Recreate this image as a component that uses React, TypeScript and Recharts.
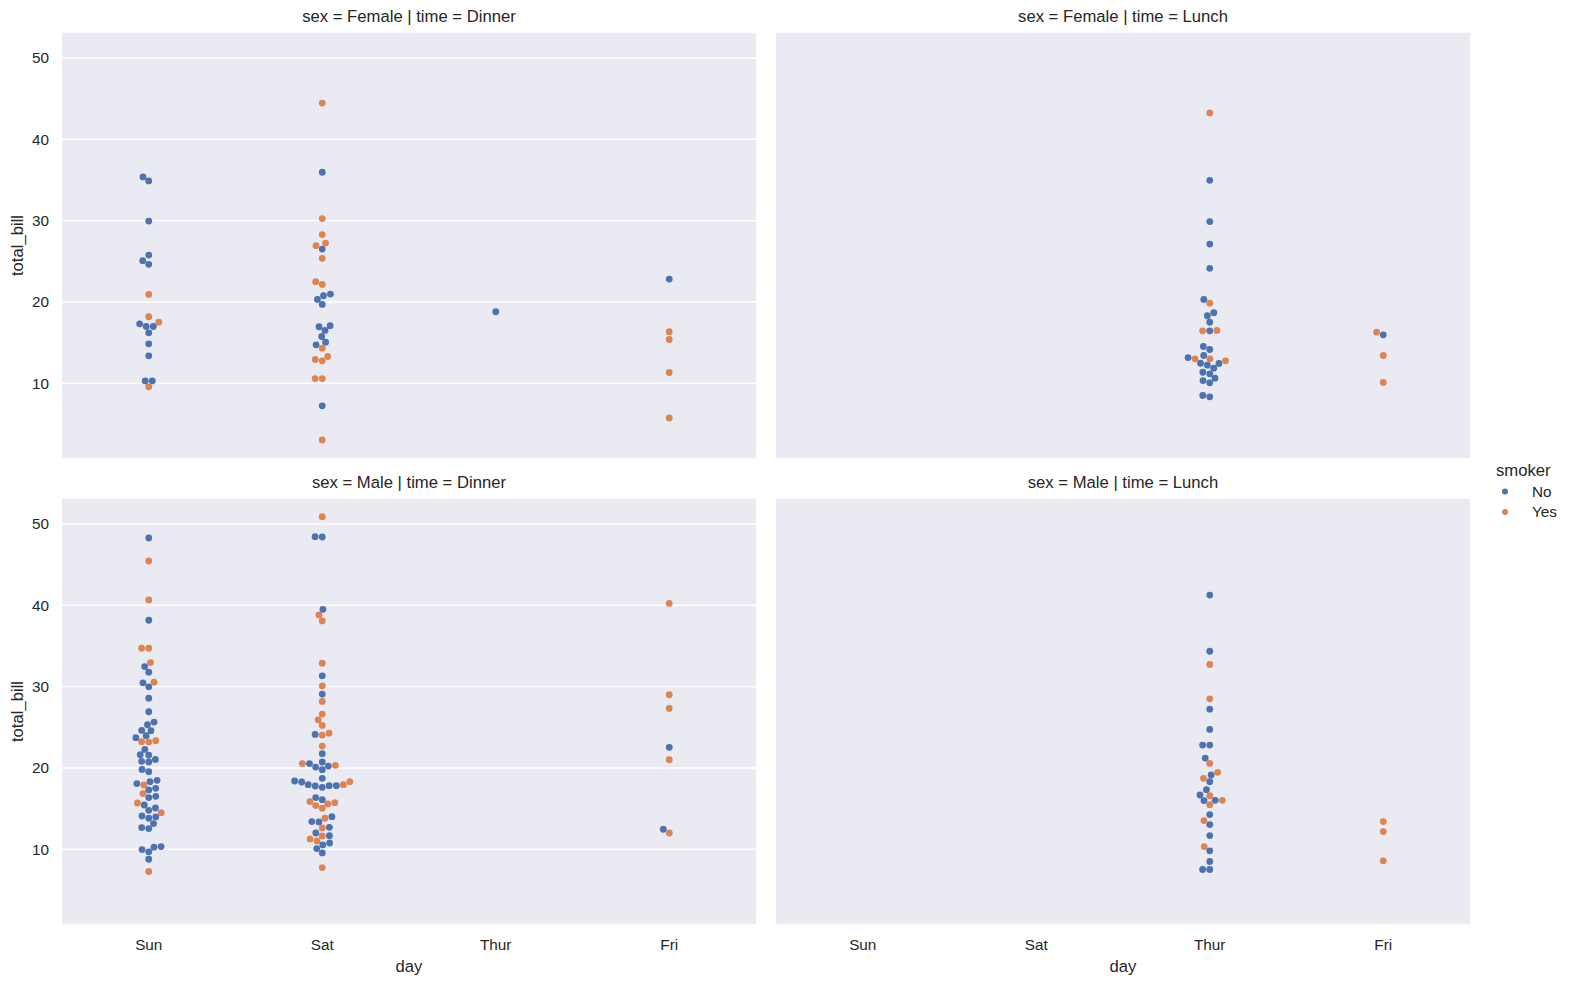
import React from 'react';
import { ScatterChart, Scatter, XAxis, YAxis, CartesianGrid } from 'recharts';

const days = ['Sun', 'Sat', 'Thur', 'Fri'];
const yTicks = [10, 20, 30, 40, 50];

// sex = Female, time = Dinner
const femaleDinnerSunNo = [35.37, 34.88, 29.95, 25.76, 25.07, 24.62, 17.31, 16.98, 16.98, 16.2, 14.85, 13.37, 10.29, 10.29];
const femaleDinnerSunYes = [20.92, 18.18, 17.51, 9.56];
const femaleDinnerSatNo = [35.95, 26.5, 20.31, 20.76, 20.96, 19.69, 16.95, 17.07, 16.49, 15.75, 15.05, 14.73, 7.22];
const femaleDinnerSatYes = [44.45, 30.25, 28.28, 26.92, 27.24, 25.36, 22.49, 22.15, 14.31, 13.29, 12.92, 12.76, 10.58, 10.58, 3.03];
const femaleDinnerThurNo = [18.79];
const femaleDinnerFriNo = [22.81];
const femaleDinnerFriYes = [16.33, 15.38, 11.32, 5.74];

// sex = Female, time = Lunch
const femaleLunchThurNo = [34.96, 29.88, 27.12, 24.13, 20.31, 18.67, 18.3, 17.51, 16.45, 14.52, 14.15, 13.41, 13.16, 12.46, 12.22, 12.43, 11.85, 11.35, 11.16, 10.33, 10.62, 10.05, 8.49, 8.33];
const femaleLunchThurYes = [43.25, 19.85, 16.45, 16.49, 13.0, 13.0, 12.76];
const femaleLunchFriNo = [15.96];
const femaleLunchFriYes = [16.28, 13.41, 10.09];

// sex = Male, time = Dinner
const maleDinnerSunNo = [48.28, 38.16, 32.47, 31.78, 30.47, 29.98, 28.58, 26.91, 25.64, 25.31, 24.61, 24.58, 23.72, 23.96, 22.28, 21.63, 21.58, 20.81, 20.73, 21.05, 19.82, 19.54, 18.07, 18.31, 18.47, 17.29, 17.49, 16.35, 16.51, 15.44, 14.79, 15.07, 13.97, 13.81, 14.09, 13.16, 12.66, 12.54, 9.96, 9.68, 10.25, 10.33, 8.77];
const maleDinnerSunYes = [45.45, 40.66, 34.72, 34.72, 32.96, 30.55, 23.22, 23.18, 23.35, 17.9, 16.84, 15.69, 14.5, 7.26];
const maleDinnerSatNo = [48.44, 48.4, 39.51, 31.33, 29.08, 24.12, 21.75, 20.53, 20.11, 20.73, 19.79, 20.23, 18.72, 18.39, 18.27, 17.94, 17.78, 17.62, 17.82, 17.82, 16.35, 16.1, 14.01, 13.36, 13.4, 12.7, 12.0, 11.67, 10.53, 10.77, 10.08, 9.55];
const maleDinnerSatYes = [50.89, 38.82, 38.08, 32.88, 30.1, 28.18, 26.62, 25.92, 25.23, 24.04, 24.28, 22.69, 20.32, 20.53, 17.94, 18.31, 15.86, 15.37, 15.04, 15.57, 15.73, 13.81, 12.62, 11.63, 11.27, 11.02, 7.75];
const maleDinnerFriNo = [22.53, 12.46];
const maleDinnerFriYes = [40.23, 29.0, 27.32, 21.01, 12.0];

// sex = Male, time = Lunch
const maleLunchThurNo = [41.26, 34.35, 27.23, 24.74, 22.81, 22.81, 21.21, 19.13, 18.31, 17.33, 16.67, 15.98, 16.02, 14.26, 13.03, 11.68, 9.8, 8.49, 7.51, 7.51];
const maleLunchThurYes = [32.72, 28.5, 20.56, 19.46, 18.72, 16.59, 16.02, 15.48, 13.52, 10.33];
const maleLunchFriYes = [13.4, 12.17, 8.57];

const BLUE = '#4C72B0';
const ORANGE = '#DD8452';
const PANEL_BG = '#EAEAF2';
const INK = '#262626';

const PLOT_W = 694;
const PLOT_H = 427;
const Y_AXIS_W = 62;
const X_AXIS_H = 50;
const Y_DOMAIN: [number, number] = [0.683, 53.197];
const DOT_R = 3.4;

type Group = { day: string; no: number[]; yes: number[] };
type SwarmPoint = { x: number; y: number; smoker: 'No' | 'Yes' };

interface FacetSpec {
  title: string;
  left: number;
  top: number;
  showY: boolean;
  showX: boolean;
  groups: Group[];
}

const facets: FacetSpec[] = [
  {
    title: 'sex = Female | time = Dinner',
    left: 62,
    top: 32,
    showY: true,
    showX: false,
    groups: [
      { day: 'Sun', no: femaleDinnerSunNo, yes: femaleDinnerSunYes },
      { day: 'Sat', no: femaleDinnerSatNo, yes: femaleDinnerSatYes },
      { day: 'Thur', no: femaleDinnerThurNo, yes: [] },
      { day: 'Fri', no: femaleDinnerFriNo, yes: femaleDinnerFriYes },
    ],
  },
  {
    title: 'sex = Female | time = Lunch',
    left: 776,
    top: 32,
    showY: false,
    showX: false,
    groups: [
      { day: 'Thur', no: femaleLunchThurNo, yes: femaleLunchThurYes },
      { day: 'Fri', no: femaleLunchFriNo, yes: femaleLunchFriYes },
    ],
  },
  {
    title: 'sex = Male | time = Dinner',
    left: 62,
    top: 498,
    showY: true,
    showX: true,
    groups: [
      { day: 'Sun', no: maleDinnerSunNo, yes: maleDinnerSunYes },
      { day: 'Sat', no: maleDinnerSatNo, yes: maleDinnerSatYes },
      { day: 'Fri', no: maleDinnerFriNo, yes: maleDinnerFriYes },
    ],
  },
  {
    title: 'sex = Male | time = Lunch',
    left: 776,
    top: 498,
    showY: false,
    showX: true,
    groups: [
      { day: 'Thur', no: maleLunchThurNo, yes: maleLunchThurYes },
      { day: 'Fri', no: [], yes: maleLunchFriYes },
    ],
  },
];

// Beeswarm layout in pixel space: points are placed from the lowest value up,
// each at the candidate closest to the category centre that overlaps nothing.
function swarmGroup(group: Group): SwarmPoint[] {
  const center = days.indexOf(group.day);
  const pxPerUnit = PLOT_H / (Y_DOMAIN[1] - Y_DOMAIN[0]);
  const bandPx = PLOT_W / days.length;
  const sep2 = (2 * DOT_R) ** 2;

  const items = [
    ...group.no.map((v) => ({ v, smoker: 'No' as const })),
    ...group.yes.map((v) => ({ v, smoker: 'Yes' as const })),
  ]
    .map((d) => ({ ...d, py: d.v * pxPerUnit }))
    .sort((a, b) => a.py - b.py);

  const placed: { x: number; y: number }[] = [];
  const out: SwarmPoint[] = [];

  for (const it of items) {
    const neighbors: { x: number; y: number }[] = [];
    for (let j = placed.length - 1; j >= 0; j--) {
      if (it.py - placed[j].y < 2 * DOT_R) neighbors.unshift(placed[j]);
      else break;
    }

    const candidates = [0];
    let leftFirst = true;
    for (const n of neighbors) {
      const dy = it.py - n.y;
      const dx = Math.sqrt(Math.max(sep2 - dy * dy, 0)) * 1.05;
      if (leftFirst) candidates.push(n.x - dx, n.x + dx);
      else candidates.push(n.x + dx, n.x - dx);
      leftFirst = !leftFirst;
    }

    const ordered = candidates
      .map((c, i) => ({ c, i }))
      .sort((a, b) => Math.abs(a.c) - Math.abs(b.c) || a.i - b.i)
      .map((o) => o.c);

    const x =
      ordered.find((c) =>
        neighbors.every((n) => (n.x - c) ** 2 + (n.y - it.py) ** 2 >= sep2 - 1e-9)
      ) ?? 0;

    placed.push({ x, y: it.py });
    out.push({ x: center + x / bandPx, y: it.v, smoker: it.smoker });
  }
  return out;
}

const dot = (color: string) => (props: any) =>
  <circle cx={props.cx} cy={props.cy} r={DOT_R} fill={color} />;

const yLabel = {
  content: ({ viewBox }: any) => (
    <text
      transform={`translate(23, ${viewBox.y + viewBox.height / 2}) rotate(-90)`}
      textAnchor="middle"
      fontSize={16.67}
      fill={INK}
    >
      total_bill
    </text>
  ),
};

function Facet({ facet }: { facet: FacetSpec }) {
  const points = facet.groups.flatMap(swarmGroup);
  const noPts = points.filter((p) => p.smoker === 'No');
  const yesPts = points.filter((p) => p.smoker === 'Yes');
  const width = facet.showY ? PLOT_W + Y_AXIS_W : PLOT_W;
  const height = facet.showX ? PLOT_H + X_AXIS_H : PLOT_H;

  return (
    <div style={{ position: 'absolute', left: facet.left - (facet.showY ? Y_AXIS_W : 0), top: facet.top }}>
      <ScatterChart width={width} height={height} margin={{ top: 0, right: 0, bottom: 0, left: 0 }}>
        <CartesianGrid vertical={false} stroke="#ffffff" strokeWidth={1.4} fill={PANEL_BG} fillOpacity={1} />
        <XAxis
          type="number"
          dataKey="x"
          domain={[-0.5, 3.5]}
          ticks={[0, 1, 2, 3]}
          interval={0}
          allowDataOverflow
          tickFormatter={(i: number) => days[i]}
          hide={!facet.showX}
          height={X_AXIS_H}
          axisLine={false}
          tickLine={false}
          tickMargin={8}
          tick={{ fill: INK, fontSize: 15.3 }}
          label={facet.showX ? { value: 'day', position: 'insideBottom', offset: 3, fill: INK, fontSize: 16.67 } : undefined}
        />
        <YAxis
          type="number"
          dataKey="y"
          domain={Y_DOMAIN}
          ticks={yTicks}
          interval={0}
          allowDataOverflow
          width={facet.showY ? Y_AXIS_W : 0}
          axisLine={false}
          tickLine={false}
          tickMargin={7}
          tick={facet.showY ? { fill: INK, fontSize: 15.3 } : false}
          label={facet.showY ? yLabel : undefined}
        />
        <Scatter name="No" data={noPts} fill={BLUE} shape={dot(BLUE)} isAnimationActive={false} />
        <Scatter name="Yes" data={yesPts} fill={ORANGE} shape={dot(ORANGE)} isAnimationActive={false} />
      </ScatterChart>
    </div>
  );
}

export default function App() {
  return (
    <div
      style={{
        position: 'absolute',
        left: 0,
        top: 0,
        width: 1570,
        height: 984,
        background: '#ffffff',
        fontFamily: '"Liberation Sans", Arial, sans-serif',
      }}
    >
      {facets.map((f) => (
        <Facet key={f.title} facet={f} />
      ))}
      <svg width={1570} height={984} style={{ position: 'absolute', left: 0, top: 0, pointerEvents: 'none' }}>
        {facets.map((f) => (
          <text key={f.title} x={f.left + PLOT_W / 2} y={f.top - 10} textAnchor="middle" fontSize={16.67} fill={INK}>
            {f.title}
          </text>
        ))}
        {/* smoker legend */}
        <text x={1496} y={476} fontSize={16.67} fill={INK}>smoker</text>
        <circle cx={1505} cy={491.5} r={3} fill={BLUE} />
        <text x={1532} y={496.5} fontSize={15.3} fill={INK}>No</text>
        <circle cx={1505} cy={512} r={3} fill={ORANGE} />
        <text x={1532} y={517.3} fontSize={15.3} fill={INK}>Yes</text>
      </svg>
    </div>
  );
}
